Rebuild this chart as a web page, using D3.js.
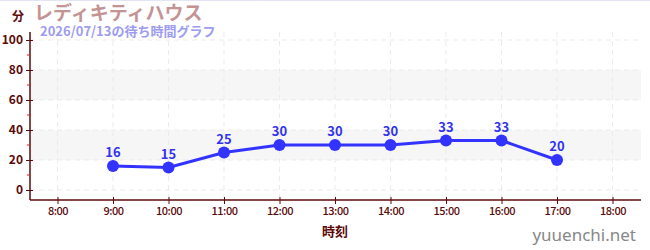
<!DOCTYPE html>
<html>
<head>
<meta charset="utf-8">
<script src="https://cdn.jsdelivr.net/npm/d3@7"></script>
<style>
  body { margin: 0; background: #fff; }
  svg { display: block; font-family: "Noto Sans CJK JP", "Noto Sans", sans-serif; }
</style>
</head>
<body>
<svg id="chart"></svg>
<script>
// データ
const hours = [9, 10, 11, 12, 13, 14, 15, 16, 17];
const waits = [16, 15, 25, 30, 30, 30, 33, 33, 20];
const xTicks = [8, 9, 10, 11, 12, 13, 14, 15, 16, 17, 18];
const yTicks = [0, 20, 40, 60, 80, 100];
const bands = [[20, 40], [60, 80]];

const width = 650;
const height = 250;
const axisColor = '#5c0a0a';

const svg = d3.select('#chart')
    .attr('width', width)
    .attr('height', height);

const x = d3.scaleLinear().domain([8, 18]).range([57.5, 612.5]);
const y = d3.scaleLinear().domain([0, 100]).range([190, 40]);

const plotLeft = 30, plotRight = 641, plotTop = 32, plotBottom = 200;

// 上の細い線
svg.append('line')
    .attr('x1', 0).attr('x2', width).attr('y1', 0.5).attr('y2', 0.5)
    .style('stroke', '#e4e4f4');

// 背景の帯
svg.selectAll('rect.band')
    .data(bands)
    .enter()
    .append('rect')
    .attr('class', 'band')
    .attr('x', plotLeft).attr('width', plotRight - plotLeft)
    .attr('y', d => y(d[1]))
    .attr('height', d => y(d[0]) - y(d[1]))
    .style('fill', '#f6f6f6');

// グリッド
svg.selectAll('line.hgrid')
    .data(yTicks)
    .enter()
    .append('line')
    .attr('x1', plotLeft).attr('x2', plotRight)
    .attr('y1', d => y(d)).attr('y2', d => y(d))
    .style('stroke', '#ebebeb')
    .style('stroke-dasharray', '5,4');

svg.selectAll('line.vgrid')
    .data(xTicks)
    .enter()
    .append('line')
    .attr('x1', d => x(d)).attr('x2', d => x(d))
    .attr('y1', plotTop).attr('y2', plotBottom)
    .style('stroke', '#ebebeb')
    .style('stroke-dasharray', '5,4');

// Y軸
const yAxis = svg.append('g')
    .attr('transform', `translate(${plotLeft},0)`)
    .call(d3.axisLeft(y).tickValues(yTicks).tickSize(4).tickPadding(3));
yAxis.select('.domain').remove();
yAxis.append('line')
    .attr('x1', 0).attr('x2', 0).attr('y1', plotTop).attr('y2', plotBottom)
    .style('stroke', axisColor).style('stroke-width', 1.5);
yAxis.selectAll('.tick line').attr('x1', 3).style('stroke', axisColor);
yAxis.selectAll('.tick text')
    .style('fill', axisColor).style('font-size', '12px').style('font-weight', 'bold')
    .style('font-family', '"Noto Sans CJK JP", sans-serif');

// 補助目盛り
svg.selectAll('line.minor')
    .data([10, 30, 50, 70, 90])
    .enter()
    .append('line')
    .attr('x1', plotLeft - 3).attr('x2', plotLeft)
    .attr('y1', d => y(d)).attr('y2', d => y(d))
    .style('stroke', '#dd2222');

// X軸
const xAxis = svg.append('g')
    .attr('transform', `translate(0,${plotBottom})`)
    .call(d3.axisBottom(x).tickValues(xTicks).tickSize(4).tickPadding(3)
        .tickFormat(d => d + ':00'));
xAxis.select('.domain').remove();
xAxis.append('line')
    .attr('x1', plotLeft).attr('x2', plotRight).attr('y1', 0).attr('y2', 0)
    .style('stroke', axisColor).style('stroke-width', 1.5);
xAxis.selectAll('.tick line').attr('y1', -3).style('stroke', axisColor);
xAxis.selectAll('.tick text')
    .style('fill', axisColor).style('font-size', '11px')
    .style('font-weight', '500')
    .style('letter-spacing', '-0.5px')
    .style('font-family', '"Noto Sans CJK JP", sans-serif');

// 線
const line = d3.line()
    .x((d, i) => x(hours[i]))
    .y(d => y(d));

svg.append('path')
    .datum(waits)
    .attr('d', line)
    .style('fill', 'none')
    .style('stroke', '#3333ff')
    .style('stroke-width', 3);

svg.selectAll('circle')
    .data(waits)
    .enter()
    .append('circle')
    .attr('cx', (d, i) => x(hours[i]))
    .attr('cy', d => y(d))
    .attr('r', 6)
    .style('fill', '#3333ff');

svg.selectAll('text.val')
    .data(waits)
    .enter()
    .append('text')
    .attr('class', 'val')
    .attr('x', (d, i) => x(hours[i]))
    .attr('y', d => y(d) - 9)
    .attr('text-anchor', 'middle')
    .style('fill', '#3333ee')
    .style('font-size', '13px')
    .style('font-weight', 'bold')
    .text(d => d);

// タイトル類
svg.append('text')
    .attr('x', 12).attr('y', 21)
    .style('fill', axisColor).style('font-size', '12px').style('font-weight', 'bold')
    .text('分');

svg.append('text')
    .attr('x', 34).attr('y', 20)
    .style('fill', '#c49494').style('font-size', '19px').style('font-weight', 'bold')
    .text('レディキティハウス');

svg.append('text')
    .attr('x', 40).attr('y', 36)
    .style('fill', '#9c9cf0').style('font-size', '13px').style('font-weight', 'bold')
    .text('2026/07/13の待ち時間グラフ');

svg.append('text')
    .attr('x', x(13)).attr('y', 236)
    .attr('text-anchor', 'middle')
    .style('fill', axisColor).style('font-size', '13px').style('font-weight', 'bold')
    .text('時刻');

svg.append('text')
    .attr('x', 636).attr('y', 241)
    .attr('text-anchor', 'end')
    .style('fill', '#888').style('font-size', '17px')
    .style('font-family', '"Noto Sans", sans-serif')
    .text('yuuenchi.net');
</script>
</body>
</html>
